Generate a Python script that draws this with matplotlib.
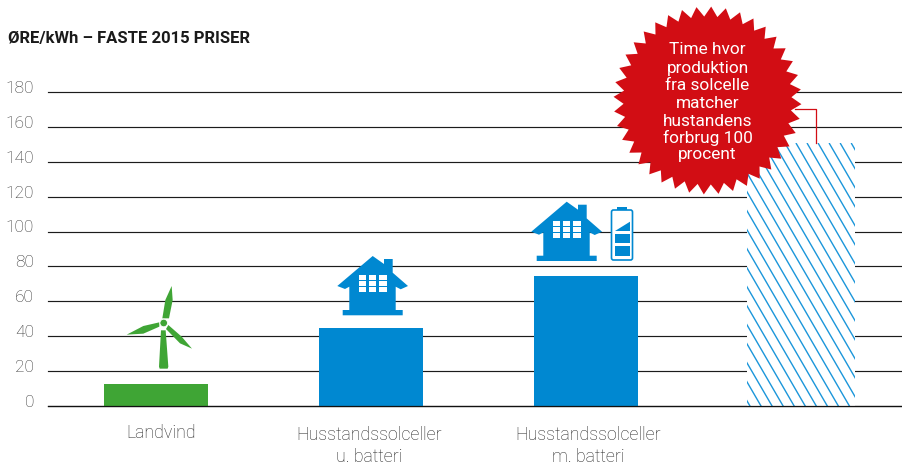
import numpy as np
import matplotlib
matplotlib.use("Agg")
import matplotlib.pyplot as plt
from matplotlib.patches import Polygon, Circle, Rectangle, FancyBboxPatch
from matplotlib.transforms import Affine2D, ScaledTranslation

# ---- data ----
categories = ["Landvind", "Husstandssolceller\nu. batteri", "Husstandssolceller\nm. batteri", ""]
values = [12.6, 44.7, 74.5, 151]
yticks = [0, 20, 40, 60, 80, 100, 120, 140, 160, 180]
title = "ØRE/kWh – FASTE 2015 PRISER"
burst_lines = ["Time hvor", "produktion", "fra solcelle", "matcher", "hustandens", "forbrug 100", "procent"]

GREEN, BLUE, RED, HATCH = "#3fa535", "#0088d1", "#d20d14", "#1b96da"
W, H = 902, 466
FONT = "Roboto"
plt.rcParams["font.family"] = FONT

fig = plt.figure(figsize=(W / 100, H / 100), dpi=100)
ax = fig.add_axes([48 / W, (H - 406) / H, (W - 48) / W, 406 / H])
ax.set_xlim(-0.502, 3.47)
ax.set_ylim(0, 406 / 1.745)
for s in ax.spines.values():
    s.set_visible(False)

# pixel space, origin at the top-left of the image (decorations only)
px = Affine2D().scale(1 / W, -1 / H).translate(0, 1) + fig.transFigure

# ---- axes and grid ----
ax.set_yticks(yticks)
ax.yaxis.grid(True, color="#1c1c1c", lw=0.85, zorder=1)
for gl in ax.get_ygridlines():
    gl.set_clip_on(False)
ax.set_axisbelow(True)
ax.tick_params(axis="y", length=0, pad=10, labelsize=12.5, labelcolor="#333333")
for lab in ax.get_yticklabels():
    lab.set_fontweight("light")
    lab.set_transform(lab.get_transform() + ScaledTranslation(0, 5 / 100, fig.dpi_scale_trans))

x = np.arange(len(values))
ax.set_xticks(x[:3], categories[:3])
ax.tick_params(axis="x", length=0, pad=13, labelsize=12.8, labelcolor="#262626")
for lab, dx, dy in zip(ax.get_xticklabels(), [5, -2, 2], [0, -2, -2]):
    lab.set_fontweight("light")
    lab.set_linespacing(1.25)
    lab.set_transform(lab.get_transform() + ScaledTranslation(dx / 100, dy / 100, fig.dpi_scale_trans))

# ---- bars ----
ax.bar(x[0], values[0], 0.484, color=GREEN, zorder=3)
ax.bar(x[1:3], values[1:3], 0.484, color=BLUE, zorder=3)
hb = ax.bar(x[3], values[3], 0.502, color="white", zorder=3)[0]
for x0 in np.arange(586, 860, 11.05):
    l, = ax.plot([x0, x0 + 160], [143, 143 + 160 * 1.72], color=HATCH, lw=1.0,
                 transform=px, zorder=4, solid_capstyle="butt")
    l.set_clip_path(hb)
ax.axhline(0, color="#111111", lw=0.9, zorder=5, clip_on=False)

# ---- title ----
fig.text(8 / W, 1 - 38 / H, title, fontsize=12, fontweight="bold", color="#1a1a1a", va="center", ha="left")

# ---- icons ----
house = np.array([[372.7, 256], [337.3, 286], [345, 289], [349.3, 286.7], [349.3, 310], [342.7, 310],
                  [342.7, 315.3], [402.7, 315.3], [402.7, 310], [395.7, 310], [395.7, 286.7],
                  [400.7, 289.3], [408, 286], [392.7, 272.7], [392.7, 259], [384, 259], [384, 264]])
def draw_house(dx, dy):
    ax.add_patch(Polygon(house + [dx, dy], closed=True, fc=BLUE, ec="none", transform=px, zorder=6, clip_on=False))
    for xa, xb in [(359, 366), (369, 376), (379, 387)]:
        for ya, yb in [(275, 280), (281, 286), (287, 292)]:
            ax.add_patch(Rectangle((xa + dx, ya + dy), xb - xa, yb - ya, fc="white", ec="none",
                                   transform=px, zorder=7, clip_on=False))
draw_house(0, 0)
draw_house(194, -54.3)

# battery
ax.add_patch(Rectangle((610.7, 209.3), 22.6, 51.4, fc="white", ec="none", transform=px, zorder=5))
ax.add_patch(FancyBboxPatch((611.5, 210), 21, 50, boxstyle="round,pad=0,rounding_size=2", fc="white", ec=BLUE,
                            lw=1.2, transform=px, zorder=6))
ax.add_patch(Rectangle((617, 207.3), 10, 2.5, fc=BLUE, ec="none", transform=px, zorder=6))
ax.add_patch(Polygon([(615, 231), (630, 221.7), (630, 231)], fc=BLUE, ec="none", transform=px, zorder=7))
ax.add_patch(Rectangle((614.5, 233.7), 15.5, 9.6, fc=BLUE, ec="none", transform=px, zorder=7))
ax.add_patch(Rectangle((614.5, 246), 15.5, 10, fc=BLUE, ec="none", transform=px, zorder=7))

# wind turbine
z = np.array([100, 190])
tower = [(183, 421), (197, 421), (205, 530), (203, 536), (179, 536), (177, 530)]
blade_up = [(187, 385), (196, 330), (215, 288), (218, 330), (207, 385)]
blade_left = [(178, 397), (130, 408), (80, 434), (130, 431), (178, 410)]
blade_right = [(205, 405), (245, 440), (276, 476), (240, 460), (198, 417)]
for poly in [tower, blade_up, blade_left, blade_right]:
    ax.add_patch(Polygon(z + np.array(poly) / 3, closed=True, fc=GREEN, ec="none", transform=px, zorder=6))
ax.add_patch(Circle((163.7, 323), 3.8, fc=GREEN, ec="white", lw=0.6, transform=px, zorder=7))

# ---- burst ----
ax.plot([795, 816, 816], [109, 109, 143], color=RED, lw=0.9, transform=px, zorder=6, clip_on=False)
n = 40
cx, cy = 707.5, 100.5
ang = np.arange(2 * n) * np.pi / n + np.pi / n / 2
rad = np.where(np.arange(2 * n) % 2 == 0, 94, 84)
ax.add_patch(Polygon(np.c_[cx + rad * np.sin(ang), cy - rad * np.cos(ang)], closed=True, fc=RED, ec="none",
                     transform=px, zorder=8, clip_on=False))
for line, yy in zip(burst_lines, [50, 68, 85, 103, 121, 138, 155]):
    ax.text(cx, yy, line, transform=px, ha="center", va="center", color="white", fontsize=12.4, zorder=9)

fig.savefig("out.png", dpi=100)
